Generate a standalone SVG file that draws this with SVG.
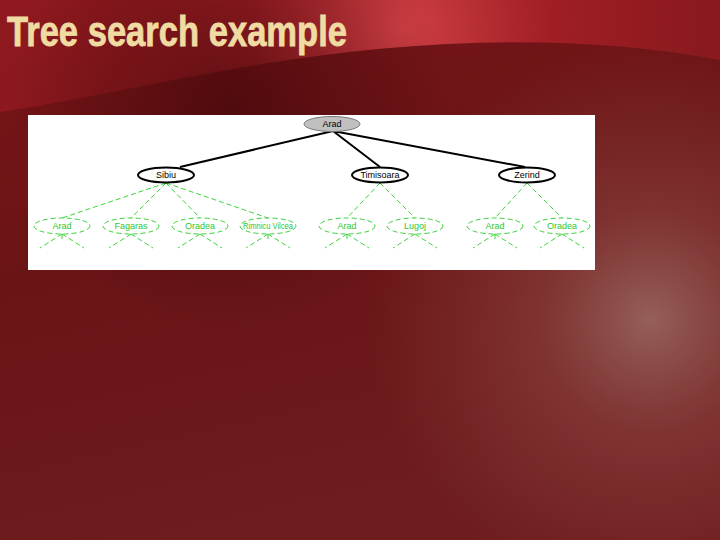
<svg xmlns="http://www.w3.org/2000/svg" width="720" height="540" viewBox="0 0 720 540">
<defs>
<radialGradient id="glow" cx="650" cy="320" r="280" gradientUnits="userSpaceOnUse">
<stop offset="0" stop-color="#9a6860" stop-opacity="0.9"/>
<stop offset="0.4" stop-color="#8a4440" stop-opacity="0.6"/>
<stop offset="1" stop-color="#8a3e3a" stop-opacity="0"/>
</radialGradient>
<radialGradient id="topred" cx="400" cy="30" r="300" gradientUnits="userSpaceOnUse">
<stop offset="0" stop-color="#d04046"/>
<stop offset="0.5" stop-color="#a01f25"/>
<stop offset="1" stop-color="#9c1c22" stop-opacity="0.6"/>
</radialGradient>
<linearGradient id="base" x1="0" y1="0" x2="0.3" y2="1">
<stop offset="0" stop-color="#7a1418"/>
<stop offset="0.5" stop-color="#6a1416"/>
<stop offset="1" stop-color="#6e1c1e"/>
</linearGradient>
<radialGradient id="dark" cx="230" cy="110" r="220" gradientUnits="userSpaceOnUse">
<stop offset="0" stop-color="#3a0508" stop-opacity="0.6"/>
<stop offset="1" stop-color="#3a0508" stop-opacity="0"/>
</radialGradient>
<style>
.t{font-family:"Liberation Sans",Arial,sans-serif;font-size:9px;text-anchor:middle}
.blk{fill:#fff;stroke:#000;stroke-width:2}
.grn{fill:none;stroke:#3ad43a;stroke-width:1;stroke-dasharray:5,3}
.gt{fill:#2ec82e}
.e{stroke:#000;stroke-width:2;fill:none}
.ge{stroke:#3ad43a;stroke-width:1;stroke-dasharray:5,3;fill:none}
</style>
</defs>
<rect width="720" height="540" fill="url(#base)"/>
<path d="M0,0 H720 V60 C560,30 380,40 200,75 C120,90 50,105 0,112 Z" fill="url(#topred)"/>
<rect width="720" height="540" fill="url(#dark)"/>
<rect width="720" height="540" fill="url(#glow)"/>
<text x="7" y="46" font-family="Liberation Sans,Arial,sans-serif" font-weight="bold" font-size="42" fill="#f0dca2" stroke="#f0dca2" stroke-width="0.8" textLength="340" lengthAdjust="spacingAndGlyphs">Tree search example</text>
<rect x="28" y="115" width="567" height="155" fill="#fff"/>
<g id="connectors">
<path class="e" d="M333,131 L180,167 M333,131 L380,167 M333,131 L525,167"/>
<path class="ge" d="M166,183 L62,218 M166,183 L131,218 M166,183 L200,218 M166,183 L268,218 M380,183 L347,218 M380,183 L415,218 M527,183 L495,218 M527,183 L562,218"/>
<path class="ge" d="M62,234 L40,248 M62,234 L84,248 M62,234 V242 M131,234 L109,248 M131,234 L153,248 M200,234 L178,248 M200,234 L222,248 M268,234 L246,248 M268,234 L290,248 M268,234 V242 M347,234 L325,248 M347,234 L369,248 M347,234 V242 M415,234 L393,248 M415,234 L437,248 M495,234 L473,248 M495,234 L517,248 M495,234 V242 M562,234 L540,248 M562,234 L584,248"/>
</g>
<g id="n-root"><ellipse cx="332" cy="124" rx="28" ry="7.5" fill="#c0c0c0" stroke="#777" stroke-width="1"/><text class="t" x="332" y="127">Arad</text></g>
<g id="n-sibiu"><ellipse class="blk" cx="166" cy="175" rx="28" ry="7.5"/><text class="t" x="166" y="178">Sibiu</text></g>
<g id="n-timisoara"><ellipse class="blk" cx="380" cy="175" rx="28" ry="7.5"/><text class="t" x="380" y="178">Timisoara</text></g>
<g id="n-zerind"><ellipse class="blk" cx="527" cy="175" rx="28" ry="7.5"/><text class="t" x="527" y="178">Zerind</text></g>
<g id="n-arad1"><ellipse class="grn" cx="62" cy="226" rx="28" ry="8"/><text class="t gt" x="62" y="229">Arad</text></g>
<g id="n-fagaras"><ellipse class="grn" cx="131" cy="226" rx="28" ry="8"/><text class="t gt" x="131" y="229">Fagaras</text></g>
<g id="n-oradea1"><ellipse class="grn" cx="200" cy="226" rx="28" ry="8"/><text class="t gt" x="200" y="229">Oradea</text></g>
<g id="n-rimnicu"><ellipse class="grn" cx="268" cy="226" rx="28" ry="8"/><text class="t gt" x="268" y="229" font-size="7" textLength="50" lengthAdjust="spacingAndGlyphs">Rimnicu Vilcea</text></g>
<g id="n-arad2"><ellipse class="grn" cx="347" cy="226" rx="28" ry="8"/><text class="t gt" x="347" y="229">Arad</text></g>
<g id="n-lugoj"><ellipse class="grn" cx="415" cy="226" rx="28" ry="8"/><text class="t gt" x="415" y="229">Lugoj</text></g>
<g id="n-arad3"><ellipse class="grn" cx="495" cy="226" rx="28" ry="8"/><text class="t gt" x="495" y="229">Arad</text></g>
<g id="n-oradea2"><ellipse class="grn" cx="562" cy="226" rx="28" ry="8"/><text class="t gt" x="562" y="229">Oradea</text></g>
</svg>
